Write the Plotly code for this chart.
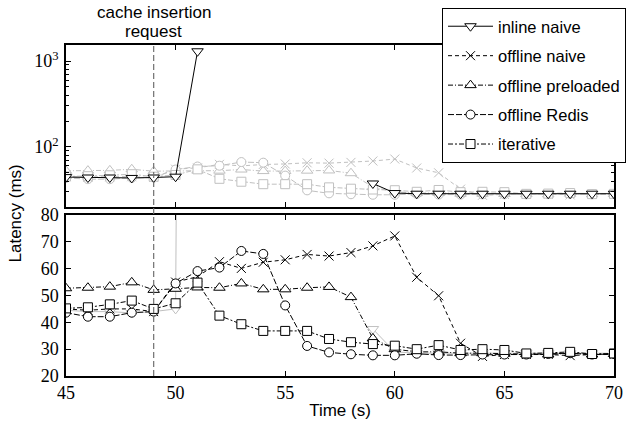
import plotly.graph_objects as go
from plotly.subplots import make_subplots

time = list(range(45, 71))

inline_naive = [44.5, 44, 44, 43.5, 44, 45, 1300,
                None, None, None, None, None, None, None,
                37.5, 29, 28.5, 28.5, 28.5, 28.5, 28.5, 28.5, 28.5, 28.5, 28.5, 28.5]
offline_naive = [45, 44.5, 45, 45, 44, 55, 57, 62.6, 60.1, 62.4, 63.3, 65.3, 64.7,
                 66.0, 68.5, 72.2, 56.8, 49.9, 32.2, 27.3, 28, 28, 28, 27.6, 28, 28]
offline_preloaded = [52.7, 52.9, 53.3, 54.9, 52.1, 52.5, 53, 52.9, 54.5, 52.3, 52.3,
                     52.9, 53.2, 49.4, 34, 30, 29, 29, 28.5, 28.5, 28.3, 28.2, 28,
                     28.5, 28, 28.2]
offline_redis = [43.6, 42.1, 42.1, 43.6, 44, 54.5, 59.1, 60.4, 66.6, 65.5, 46.3, 31.2,
                 28.8, 28.1, 27.7, 27.7, 28.3, 27.8, 27.8, 28, 28, 28, 28.2, 28.5, 28, 28.2]
iterative = [45.2, 45.6, 46.7, 48.1, 45, 47.1, 54.8, 42.5, 39.3, 36.8, 36.8, 36.8, 33.8,
             32.6, 31.9, 31.3, 30.0, 31.5, 29.7, 30.0, 29.7, 28.4, 28.6, 29.0, 28.2, 28.4]

series = [
    ("inline naive", inline_naive, "triangle-down", "solid", 10),
    ("offline naive", offline_naive, "x-thin-open", "4px,3px", 9),
    ("offline preloaded", offline_preloaded, "triangle-up", "5px,2px,1px,2px", 10),
    ("offline Redis", offline_redis, "circle", "6px,2px", 9),
    ("iterative", iterative, "square", "5px,2px,2px,2px", 9),
]

insertion_time = 49

BLACK = "#000000"
GRAY = "#c0c0c0"
SERIF = "Liberation Serif"
SANS = "Liberation Sans"

W, H = 627, 422
SL, SR, ST, SB = 66, 614, 45, 376          # plot area in page px


def px(X):
    return (X - SL) / (SR - SL)


def py(Y):
    return (SB - Y) / (SB - ST)


fig = make_subplots(rows=2, cols=1, shared_xaxes=False, vertical_spacing=0.0)


def add(name, y, sym, dash, size, color, row, showlegend, rank):
    fig.add_trace(go.Scatter(
        x=time, y=y, name=name, mode="lines+markers",
        line=dict(color=color, width=1, dash=dash),
        marker=dict(symbol=sym, size=size, color="white" if "open" not in sym else color,
                    line=dict(color=color, width=1)),
        showlegend=showlegend, legendrank=rank, legendgroup=name,
        connectgaps=False,
    ), row=row, col=1)


# top (log): others gray, inline naive black on top
for i, (name, y, sym, dash, size) in enumerate(series):
    if name != "inline naive":
        add(name, y, sym, dash, size, GRAY, 1, False, i)
name, y, sym, dash, size = series[0]
add(name, y, sym, dash, size, BLACK, 1, True, 0)

# bottom (linear): inline naive gray, others black
add(name, y, sym, dash, size, GRAY, 2, False, 0)
for i, (name, y, sym, dash, size) in enumerate(series):
    if name != "inline naive":
        add(name, y, sym, dash, size, BLACK, 2, True, i)

top_dom = [py(207), 1.0]
bot_dom = [0.0, py(215)]

axis_common = dict(showline=True, linecolor="black", linewidth=1.5, mirror="ticks",
                   ticks="inside", ticklen=5, tickcolor="black", showgrid=False,
                   zeroline=False, tickfont=dict(family=SERIF, size=18, color="black"))

fig.update_layout(
    width=W, height=H,
    margin=dict(l=SL, r=W - SR, t=ST, b=H - SB, pad=0, autoexpand=False),
    paper_bgcolor="white", plot_bgcolor="white",
    xaxis=dict(domain=[0, 1], range=[45, 70], dtick=5, showticklabels=False,
               anchor="y", **axis_common),
    yaxis=dict(domain=top_dom, type="log", range=[1.30, 3.187],
               tickvals=[100, 1000], ticktext=["10<sup>2</sup>", "10<sup>3</sup>"],
               ticklabelstandoff=2,
               minor=dict(ticks="inside", ticklen=3, tickcolor="black",
                          tickvals=[20, 30, 40, 50, 60, 70, 80, 90,
                                    200, 300, 400, 500, 600, 700, 800, 900]),
               anchor="x", **axis_common),
    xaxis2=dict(domain=[0, 1], range=[45, 70], dtick=5, anchor="y2",
                title=dict(text="Time (s)", font=dict(family=SANS, size=17, color="black"),
                           standoff=2),
                **axis_common),
    yaxis2=dict(domain=bot_dom, range=[20, 80], dtick=10, anchor="x2",
                ticklabelstandoff=2, **axis_common),
    legend=dict(xref="container", yref="container",
                x=626 / W, y=1 - 8 / H, xanchor="right", yanchor="top",
                bgcolor="white", bordercolor="black", borderwidth=1,
                font=dict(family=SANS, size=16.5, color="black"),
                itemwidth=45, tracegroupgap=5, traceorder="grouped"),
    shapes=[dict(type="line", xref="x", yref="paper", x0=insertion_time, x1=insertion_time,
                 y0=0, y1=1, line=dict(color="#707070", width=1.2, dash="6px,3px"))],
    annotations=[
        dict(text="cache insertion", xref="x", yref="paper",
             x=insertion_time, y=py(24), xanchor="center", yanchor="bottom",
             showarrow=False, font=dict(family=SANS, size=17, color="black")),
        dict(text="request", xref="x", yref="paper",
             x=insertion_time, y=py(42.5), xanchor="center", yanchor="bottom",
             showarrow=False, font=dict(family=SANS, size=17, color="black")),
        dict(text="Latency (ms)", xref="paper", yref="paper",
             x=px(15), y=py(213.5),
             xanchor="center", yanchor="middle", textangle=-90, showarrow=False,
             font=dict(family=SANS, size=17, color="black")),
    ],
)

fig.write_html("out.html", config={"displayModeBar": False},
               post_script="document.body.style.margin='0px';")
